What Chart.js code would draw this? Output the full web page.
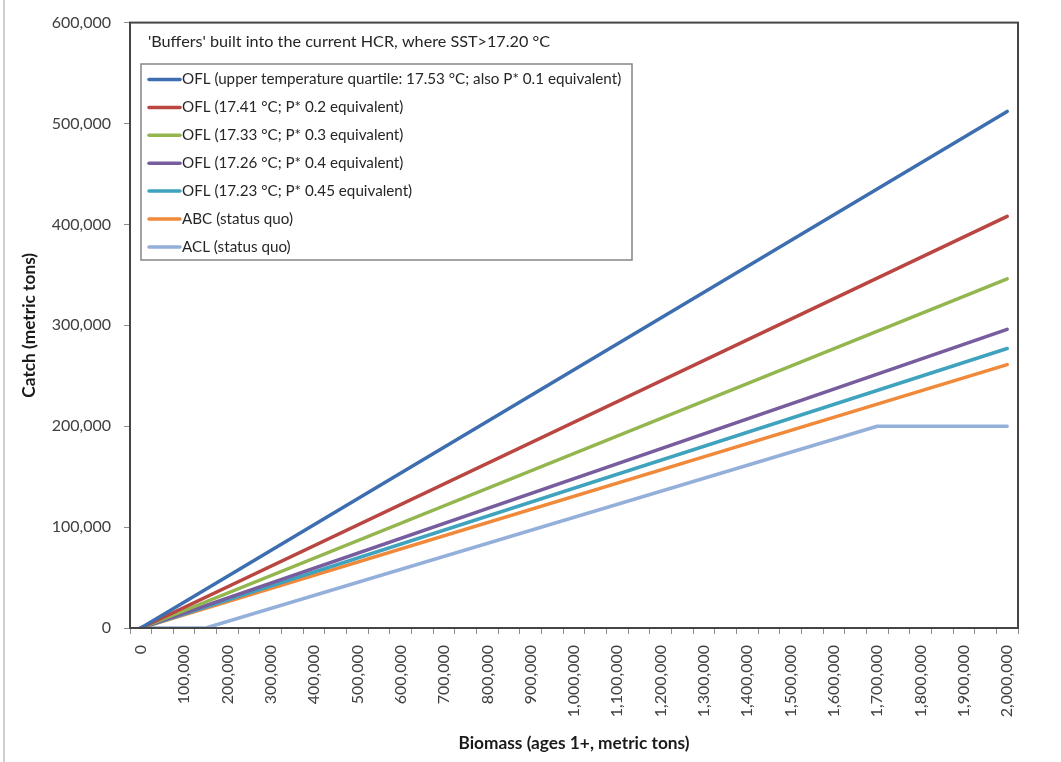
<!DOCTYPE html>
<html>
<head>
<meta charset="utf-8">
<title>Buffers built into the current HCR</title>
<script src="https://cdn.jsdelivr.net/npm/chart.js@4/dist/chart.umd.min.js"></script>
<style>
  html, body { margin: 0; padding: 0; background: #fff; }
  #wrap { position: relative; width: 1061px; height: 762px; }
</style>
</head>
<body>
<div id="wrap"><canvas id="hcrChart" width="1061" height="762"></canvas></div>
<script>
// ---- DATA ----
// biomass categories along the x axis (metric tons)
const biomass = [
  0, 50000, 100000, 150000, 200000, 250000, 300000, 350000, 400000, 450000,
  500000, 550000, 600000, 650000, 700000, 750000, 800000, 850000, 900000, 950000,
  1000000, 1050000, 1100000, 1150000, 1200000, 1250000, 1300000, 1350000, 1400000, 1450000,
  1500000, 1550000, 1600000, 1650000, 1700000, 1750000, 1800000, 1850000, 1900000, 1950000,
  2000000
];
const catchTicks = [0, 100000, 200000, 300000, 400000, 500000, 600000];

// straight-line rules: catch at the end points
const lineBiomass = [0, 2000000];
const oflQuartile = [0, 512000];
const oflP02 = [0, 408000];
const oflP03 = [0, 346000];
const oflP04 = [0, 296000];
const oflP045 = [0, 277000];
const abcStatusQuo = [0, 261000];

// ACL: zero below the cutoff, capped at 200,000 t
const aclBiomass = [0, 150000, 1700000, 2000000];
const aclStatusQuo = [0, 0, 200000, 200000];

const seriesNames = [
  'OFL (upper temperature quartile: 17.53 °C; also P* 0.1 equivalent)',
  'OFL (17.41 °C; P* 0.2 equivalent)',
  'OFL (17.33 °C; P* 0.3 equivalent)',
  'OFL (17.26 °C; P* 0.4 equivalent)',
  'OFL (17.23 °C; P* 0.45 equivalent)',
  'ABC (status quo)',
  'ACL (status quo)'
];
const seriesColors = ['#3D6EB0', '#BA4642', '#93B64F', '#775C9E', '#3FA3BE', '#F0893A', '#94AFDA'];
const plotTitle = "'Buffers' built into the current HCR, where SST>17.20 °C";

const FONT = 'Lato, "Open Sans", sans-serif';
const fmt = v => Number(v).toLocaleString('en-US');
const toPoints = (xs, ys) => xs.map((x, i) => ({ x, y: ys[i] }));

const seriesData = [
  toPoints(lineBiomass, oflQuartile),
  toPoints(lineBiomass, oflP02),
  toPoints(lineBiomass, oflP03),
  toPoints(lineBiomass, oflP04),
  toPoints(lineBiomass, oflP045),
  toPoints(lineBiomass, abcStatusQuo),
  toPoints(aclBiomass, aclStatusQuo)
];

// ---- PLUGINS ----
// outer frame line on the left and the box round the plot area
const frame = {
  id: 'frame',
  beforeDraw(chart) {
    const { ctx } = chart;
    ctx.save();
    ctx.fillStyle = '#cfcfcf';
    ctx.fillRect(3, 0, 2, chart.height);
    ctx.restore();
  },
  afterDraw(chart) {
    const { ctx, chartArea: a } = chart;
    ctx.save();
    ctx.strokeStyle = '#454545';
    ctx.lineWidth = 2;
    ctx.strokeRect(a.left, a.top, a.right - a.left, a.bottom - a.top);
    ctx.restore();
  }
};

// title and boxed legend inside the plot area
const insetLegend = {
  id: 'insetLegend',
  afterDatasetsDraw(chart) {
    const { ctx, chartArea: a } = chart;
    const boxX = a.left + 11, boxY = 64, boxW = 491, boxH = 196;
    ctx.save();
    ctx.textBaseline = 'middle';
    ctx.font = '16.2px ' + FONT;
    ctx.fillStyle = '#262626';
    ctx.fillText(plotTitle, a.left + 18, 42);

    ctx.fillStyle = '#fff';
    ctx.fillRect(boxX, boxY, boxW, boxH);
    ctx.strokeStyle = '#858585';
    ctx.lineWidth = 1.5;
    ctx.strokeRect(boxX, boxY, boxW, boxH);

    ctx.font = '15.2px ' + FONT;
    chart.data.datasets.forEach((ds, i) => {
      const y = 79.5 + i * 27.9;
      ctx.strokeStyle = ds.borderColor;
      ctx.lineWidth = 3.5;
      ctx.lineCap = 'round';
      ctx.beginPath();
      ctx.moveTo(boxX + 8, y);
      ctx.lineTo(boxX + 39, y);
      ctx.stroke();
      ctx.fillStyle = '#262626';
      ctx.fillText(ds.label, boxX + 41, y);
    });
    ctx.restore();
  }
};

// ---- CHART ----
new Chart(document.getElementById('hcrChart'), {
  type: 'line',
  data: {
    labels: biomass,
    datasets: seriesData.map((pts, i) => ({
      label: seriesNames[i],
      data: pts,
      borderColor: seriesColors[i],
      backgroundColor: seriesColors[i],
      borderWidth: 3.5,
      borderCapStyle: 'round',
      borderJoinStyle: 'round',
      pointRadius: 0,
      tension: 0,
      fill: false
    }))
  },
  options: {
    responsive: false,
    animation: false,
    layout: { padding: { left: 0, top: 16, right: 43, bottom: 8 } },
    plugins: {
      legend: { display: false },
      tooltip: { enabled: false }
    },
    scales: {
      x: {
        type: 'category',
        offset: true,
        afterFit: s => { s.height = 126; },
        grid: { offset: true, drawOnChartArea: false, tickLength: 6, color: '#8c8c8c' },
        border: { display: false },
        ticks: {
          autoSkip: false,
          minRotation: 90,
          maxRotation: 90,
          padding: 11,
          color: '#404040',
          font: { family: FONT, size: 16 },
          callback: (v, i) => (i % 2 === 0 ? fmt(biomass[i]) : '')
        },
        title: {
          display: true,
          text: 'Biomass (ages 1+, metric tons)',
          color: '#1a1a1a',
          padding: { top: 0, bottom: 0 },
          font: { family: FONT, size: 17.3, weight: 'bold' }
        }
      },
      y: {
        min: 0,
        max: 600000,
        afterFit: s => { s.width = 130; },
        afterBuildTicks: s => { s.ticks = catchTicks.map(v => ({ value: v })); },
        grid: { drawOnChartArea: false, tickLength: 6, color: '#8c8c8c' },
        border: { display: false },
        ticks: {
          padding: 13,
          color: '#404040',
          font: { family: FONT, size: 16 },
          callback: v => fmt(v)
        },
        title: {
          display: true,
          text: 'Catch (metric tons)',
          color: '#1a1a1a',
          padding: { top: 19, bottom: 0 },
          font: { family: FONT, size: 17.3, weight: 'bold' }
        }
      }
    }
  },
  plugins: [frame, insetLegend]
});
</script>
</body>
</html>
